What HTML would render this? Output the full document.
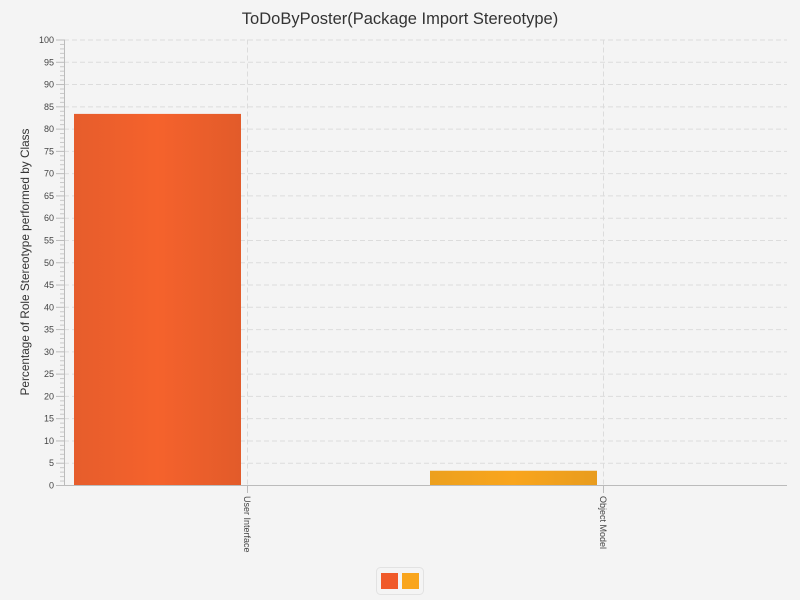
<!DOCTYPE html>
<html><head><meta charset="utf-8"><style>
html,body{margin:0;padding:0;background:#f4f4f4;}
svg{display:block;font-family:"Liberation Sans",sans-serif;}
</style></head><body>
<svg id="chart" width="800" height="600">
<defs>
<linearGradient id="g1" x1="0" x2="1" y1="0" y2="0"><stop offset="0" stop-color="#e65d2c"/><stop offset="0.5" stop-color="#f5622c"/><stop offset="1" stop-color="#e25b2a"/></linearGradient>
<linearGradient id="g2" x1="0" x2="1" y1="0" y2="0"><stop offset="0" stop-color="#eca01e"/><stop offset="0.5" stop-color="#f9a51d"/><stop offset="1" stop-color="#e89c1e"/></linearGradient>
</defs>
<text x="400" y="24" text-anchor="middle" font-size="16.5" fill="#333">ToDoByPoster(Package Import Stereotype)</text>
<text transform="translate(29,262) rotate(-90)" text-anchor="middle" font-size="11.8" fill="#333">Percentage of Role Stereotype performed by Class</text>
<g id="grid"></g><g id="axes"></g><g id="bars"></g>
<rect x="376.5" y="567.5" width="47" height="27" rx="4" fill="none" stroke="#e2e2e2"/>
<rect x="381" y="573" width="17" height="16" fill="#f05a2a"/>
<rect x="402" y="573" width="17" height="16" fill="#f9a51d"/>
</svg>
<script>
const categories=["User Interface","Object Model"];
const series1=[83.3,0];
const series2=[0,3.2];
const yTicks=[0,5,10,15,20,25,30,35,40,45,50,55,60,65,70,75,80,85,90,95,100];
const NS="http://www.w3.org/2000/svg";
const L=64,R=787,T=39.5,B=485;
function y(v){return B-(B-T)*v/100;}
function cx(i){return 247+356*i;}
function mk(tag,attrs,parent){const e=document.createElementNS(NS,tag);for(const k in attrs)e.setAttribute(k,attrs[k]);parent.appendChild(e);return e;}
const grid=document.getElementById('grid'),axes=document.getElementById('axes'),bars=document.getElementById('bars');
yTicks.forEach(v=>{
 if(v>0){const g=mk('line',{x1:L,x2:R,y1:y(v)+0.5,y2:y(v)+0.5,stroke:'#dcdcdc','stroke-dasharray':'5,3'},grid);
 
 }
 mk('line',{x1:L-8,x2:L,y1:y(v)+0.5,y2:y(v)+0.5,stroke:'#bbb'},axes);
 const lb=mk('text',{x:L-10,y:y(v)+3.5,'text-anchor':'end','font-size':'9',fill:'#444'},axes);
 lb.textContent=v;
 
 
 if(v<100)for(let m=1;m<5;m++){mk('line',{x1:L-4,x2:L,y1:y(v+m)+0.5,y2:y(v+m)+0.5,stroke:'#c8c8c8'},axes);}
});
categories.forEach((c,i)=>{
 const g=mk('line',{x1:cx(i)+0.5,x2:cx(i)+0.5,y1:T,y2:B,stroke:'#dcdcdc','stroke-dasharray':'5,3'},grid);
 
 
 mk('line',{x1:cx(i)+0.5,x2:cx(i)+0.5,y1:B,y2:B+8,stroke:'#bbb'},axes);
 const lb=mk('text',{transform:`translate(${cx(i)-3},${B+11}) rotate(90)`,'font-size':'9',fill:'#444'},axes);
 lb.textContent=c;
 
 
});
mk('line',{x1:L+0.5,x2:L+0.5,y1:T,y2:B,stroke:'#bbb'},axes);
mk('line',{x1:L,x2:R,y1:B+0.5,y2:B+0.5,stroke:'#bbb'},axes);
[[series1,'url(#g1)'],[series2,'url(#g2)']].forEach(([s,f],k)=>{
 s.forEach((v,i)=>{ if(v<=0)return;
  const r=mk('rect',{x:cx(i)-173,y:y(v),width:167,height:B-y(v),fill:f},bars);
  
  
 });
});
</script>
</body></html>
